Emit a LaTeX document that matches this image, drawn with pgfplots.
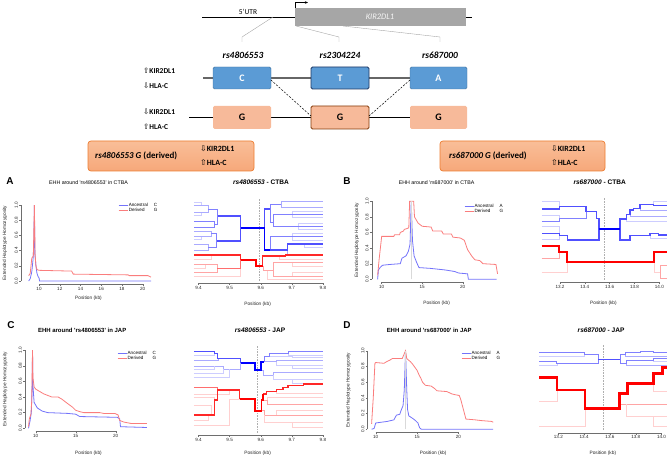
\documentclass[border=0pt]{standalone}
\usepackage{fontspec}
\setmainfont{Liberation Sans}
\newfontfamily\calfont{Carlito}
\newfontfamily\dejfont{DejaVu Sans}
\usepackage{pgfplots}
\pgfplotsset{compat=1.18}
\usetikzlibrary{arrows.meta}
\definecolor{ehhblue}{RGB}{115,115,250}
\definecolor{ehhred}{RGB}{250,125,125}
\definecolor{boxblue}{RGB}{91,155,213}
\definecolor{boxblueb}{RGB}{65,113,156}
\definecolor{navyb}{RGB}{31,56,100}
\definecolor{gbox}{RGB}{247,186,154}
\definecolor{brownb}{RGB}{132,60,12}
\definecolor{callfill}{RGB}{246,168,122}
\definecolor{calltop}{RGB}{249,190,152}
\definecolor{callb}{RGB}{237,125,49}
\definecolor{axgray}{RGB}{110,110,110}
\definecolor{cBa}{RGB}{0,0,255}
\definecolor{cBb}{RGB}{80,80,255}
\definecolor{cBc}{RGB}{128,128,255}
\definecolor{cBd}{RGB}{170,170,255}
\definecolor{cBe}{RGB}{205,205,255}
\definecolor{cRa}{RGB}{255,0,0}
\definecolor{cRb}{RGB}{255,40,40}
\definecolor{cRc}{RGB}{255,110,110}
\definecolor{cRd}{RGB}{255,165,165}
\definecolor{cRe}{RGB}{255,208,208}
\definecolor{coreg}{RGB}{175,175,175}
\tikzset{axline/.style={draw=axgray, line width=0.35bp}}
\pgfplotsset{
  common/.style={scale only axis, clip=false, anchor=south west, axis lines=left,
    axis line style={draw=none}, tick align=outside, major tick length=1.8bp,
    tick style={draw=axgray, line width=0.35bp},
    /pgf/number format/assume math mode=true,
    ticklabel style={font=\fontsize{4.6}{5}\selectfont, text=black!85, inner sep=1bp},
    label style={font=\fontsize{4.8}{5}\selectfont, text=black!85},
    xlabel={Position (kb)}},
  ehh/.style={common, ymin=-0.04, ymax=1.04, ytick={0,0.2,0.4,0.6,0.8,1},
    yticklabels={0.0,0.2,0.4,0.6,0.8,1.0},
    yticklabel style={rotate=90, anchor=south},
    ylabel={Extended Haplotype Homozygosity},
    legend style={draw=none, fill=none, font=\fontsize{4.6}{5}\selectfont, inner sep=0pt,
      row sep=-1.2bp, nodes={inner sep=0.7bp}, cells={anchor=west}},
    legend image code/.code={\draw[##1, line width=0.8bp] (0bp,0bp) -- (9bp,0bp);},
    legend cell align=left},
  bif/.style={common, hide y axis, title style={font=\bfseries\fontsize{6.6}{7}\selectfont, anchor=base}},
}
\begin{document}
\begin{tikzpicture}
\path[use as bounding box] (0,0) rectangle (669bp,457bp);

% ---------------- schematic (pixel coordinates, y downwards) ----------------
\begin{scope}[shift={(0pt,457bp)}, x=1bp, y=-1bp]
 \draw[black, line width=0.5bp] (202,17) -- (295,17);
 \node[font=\calfont\fontsize{7.5}{8}\selectfont] at (248,11.5) {5’UTR};
 \fill[black!35] (295,8) rectangle (466,26);
 \node[font=\calfont\itshape\fontsize{8.5}{9}\selectfont, text=white!92!gray] at (380,17) {KIR2DL1};
 \draw[line width=0.5bp] (466,17) -- (472,17);
 \draw[line width=0.5bp, -{Stealth[length=3bp,width=2.5bp]}] (295,8) -- (295,2.5) -- (308,2.5);
 \draw[gray!70, line width=0.4bp] (273,17) -- (242,37) -- (242,42);
 \draw[gray!70, line width=0.4bp] (296,26) -- (339,37) -- (339,42);
 \draw[gray!70, line width=0.4bp] (343,26) -- (440,37) -- (440,42);
 \node[font=\calfont\bfseries\itshape\fontsize{9.5}{10}\selectfont] at (243,55) {rs4806553};
 \node[font=\calfont\bfseries\itshape\fontsize{9.5}{10}\selectfont] at (340,55) {rs2304224};
 \node[font=\calfont\bfseries\itshape\fontsize{9.5}{10}\selectfont] at (440,55) {rs687000};
 \draw[black!60, line width=1.2bp] (203,78) -- (410,78);
 \draw[black, line width=0.6bp] (189,117.5) -- (410,117.5);
 \draw[rounded corners=1.5bp, fill=boxblue, draw=boxblueb, line width=0.4bp] (213,67) rectangle (271,89);
 \draw[rounded corners=1.5bp, fill=boxblue, draw=navyb, line width=0.9bp] (311,67) rectangle (369,89);
 \draw[rounded corners=1.5bp, fill=boxblue, draw=boxblueb, line width=0.4bp] (410,67) rectangle (467,89);
 \fill[rounded corners=1.5bp, gbox] (213,106) rectangle (271,129);
 \draw[rounded corners=1.5bp, fill=gbox, draw=brownb, line width=0.8bp] (311,106) rectangle (369,129);
 \fill[rounded corners=1.5bp, gbox] (410,106) rectangle (467,129);
 \draw[line width=0.5bp, dash pattern=on 2bp off 1.5bp] (271,80) -- (311,116);
 \draw[line width=0.5bp, dash pattern=on 2bp off 1.5bp] (369,116) -- (410,80);
 \foreach \xx/\ll in {242/C,340/T,438.5/A}
   \node[font=\calfont\bfseries\fontsize{10}{10}\selectfont, text=white] at (\xx,78) {\ll};
 \foreach \xx in {242,340,438.5}
   \node[font=\calfont\bfseries\fontsize{10}{10}\selectfont] at (\xx,117.5) {G};
 \node[anchor=west, inner sep=0pt, font=\calfont\bfseries\fontsize{7.5}{8}\selectfont] at (143,71) {{\dejfont\mdseries ⇧}KIR2DL1};
 \node[anchor=west, inner sep=0pt, font=\calfont\bfseries\fontsize{7.5}{8}\selectfont] at (143,86) {{\dejfont\mdseries ⇩}HLA-C};
 \node[anchor=west, inner sep=0pt, font=\calfont\bfseries\fontsize{7.5}{8}\selectfont] at (143,112) {{\dejfont\mdseries ⇩}KIR2DL1};
 \node[anchor=west, inner sep=0pt, font=\calfont\bfseries\fontsize{7.5}{8}\selectfont] at (143,126.5) {{\dejfont\mdseries ⇧}HLA-C};
 \draw[rounded corners=3bp, top color=calltop, bottom color=callfill, draw=callb, line width=0.7bp] (88,141) rectangle (254,171);
 \draw[rounded corners=3bp, top color=calltop, bottom color=callfill, draw=callb, line width=0.7bp] (440,141) rectangle (605,171);
 \node[anchor=west, inner sep=0pt, font=\calfont\bfseries\fontsize{9}{10}\selectfont] at (95,156) {\textit{rs4806553 G} (derived)};
 \node[anchor=west, inner sep=0pt, font=\calfont\bfseries\fontsize{8}{9}\selectfont] at (200,149) {{\dejfont\mdseries ⇩}KIR2DL1};
 \node[anchor=west, inner sep=0pt, font=\calfont\bfseries\fontsize{8}{9}\selectfont] at (200,163) {{\dejfont\mdseries ⇧}HLA-C};
 \node[anchor=west, inner sep=0pt, font=\calfont\bfseries\fontsize{9}{10}\selectfont] at (449,156) {\textit{rs687000 G} (derived)};
 \node[anchor=west, inner sep=0pt, font=\calfont\bfseries\fontsize{8}{9}\selectfont] at (551,149) {{\dejfont\mdseries ⇩}KIR2DL1};
 \node[anchor=west, inner sep=0pt, font=\calfont\bfseries\fontsize{8}{9}\selectfont] at (551,163) {{\dejfont\mdseries ⇧}HLA-C};
 \node[font=\bfseries\fontsize{10}{10}\selectfont] at (10,181) {A};
 \node[font=\bfseries\fontsize{10}{10}\selectfont] at (347,181) {B};
 \node[font=\bfseries\fontsize{10}{10}\selectfont] at (11,325) {C};
 \node[font=\bfseries\fontsize{10}{10}\selectfont] at (347,325) {D};
\end{scope}

% ---------------- A : EHH rs4806553 CTBA ----------------
\begin{axis}[ehh, at={(21bp,173bp)}, width=135bp, height=82bp, xmin=8.26, xmax=21.28,
  xtick={10,12,14,16,18,20},
  title={EHH around \textquotesingle rs4806553\textquotesingle\ in CTBA},
  title style={font=\fontsize{5.3}{6}\selectfont, at={(axis description cs:0.5,1.146)}, anchor=base},
  xlabel style={at={(axis description cs:0.5,-0.195)}, anchor=base},
  ylabel style={at={(axis description cs:-0.119,0.5)}, anchor=center},
  legend style={at={(axis description cs:0.719,0.994)}, anchor=north west},
  legend entries={\makebox[25bp][l]{Ancestral}C, \makebox[25bp][l]{Derived}G}]
 \addplot[color=ehhblue, line width=0.8bp] coordinates {(9.0,0) (9.15,0.03) (9.3,0.12) (9.42,0.28) (9.5,0.5) (9.55,1.0) (9.6,0.35) (9.7,0.2) (9.8,0.1) (9.9,0.06) (10.0,0.04) (10.05,0) (20.8,0)};
 \addplot[color=ehhred, line width=0.8bp] coordinates {(9.0,0.07) (9.15,0.1) (9.3,0.3) (9.45,0.33) (9.55,1.0) (9.62,0.35) (9.7,0.2) (9.8,0.15) (10.0,0.14) (13.15,0.13) (13.3,0.09) (18.6,0.08) (18.7,0.07) (20.5,0.07) (20.8,0.05)};
 \draw[axline] (axis cs:10,-0.04) -- (axis cs:20,-0.04);
 \draw[axline] (axis cs:8.26,0) -- (axis cs:8.26,1);
\end{axis}

% ---------------- A : bifurcation rs4806553 CTBA ----------------
\begin{axis}[bif, at={(189.2bp,174bp)}, width=136.8bp, height=85bp, xmin=9.37, xmax=9.81, ymin=-283, ymax=-198,
  xtick={9.4,9.5,9.6,9.7,9.8}, xticklabels={9.4,9.5,9.6,9.7,9.8},
  title={\textit{rs4806553} - CTBA}, title style={at={(axis description cs:0.525,1.088)}},
  xlabel style={at={(axis description cs:0.5,-0.27)}, anchor=base}]
 \addplot[color=coreg, line width=0.35bp, dash pattern=on 0.8bp off 0.8bp] coordinates {(9.595,-281) (9.595,-198)};
 \addplot[color=cBe, line width=0.45bp] coordinates {(9.385,-202) (9.41,-202) (9.41,-205)};
 \addplot[color=cBe, line width=0.45bp] coordinates {(9.385,-215) (9.41,-215) (9.41,-212)};
 \addplot[color=cBe, line width=0.45bp] coordinates {(9.385,-239) (9.41,-239) (9.41,-236)};
 \addplot[color=cBd, line width=0.55bp] coordinates {(9.385,-205) (9.43,-205) (9.43,-212) (9.385,-212)};
 \addplot[color=cBc, line width=0.8bp] coordinates {(9.385,-221) (9.45,-221) (9.45,-227) (9.385,-227)};
 \addplot[color=cBd, line width=0.55bp] coordinates {(9.385,-231) (9.44,-231) (9.44,-236) (9.385,-236)};
 \addplot[color=cBd, line width=0.55bp] coordinates {(9.385,-244) (9.43,-244) (9.43,-250) (9.385,-250)};
 \addplot[color=cBc, line width=0.8bp] coordinates {(9.43,-209) (9.462,-209) (9.462,-224) (9.45,-224)};
 \addplot[color=cBc, line width=0.8bp] coordinates {(9.44,-233) (9.458,-233) (9.458,-247) (9.43,-247)};
 \addplot[color=cBb, line width=1.2bp] coordinates {(9.462,-216) (9.535,-216) (9.535,-241) (9.458,-241)};
 \addplot[color=cBa, line width=1.8bp] coordinates {(9.595,-228) (9.535,-228)};
 \addplot[color=cBe, line width=0.45bp] coordinates {(9.8,-211) (9.7,-211) (9.7,-217) (9.8,-217)};
 \addplot[color=cBe, line width=0.45bp] coordinates {(9.8,-223) (9.72,-223) (9.72,-229) (9.8,-229)};
 \addplot[color=cBe, line width=0.45bp] coordinates {(9.8,-233) (9.7,-233) (9.7,-240) (9.8,-240)};
 \addplot[color=cBe, line width=0.45bp] coordinates {(9.8,-247) (9.74,-247) (9.74,-244)};
 \addplot[color=cBd, line width=0.55bp] coordinates {(9.8,-201) (9.665,-201) (9.665,-207) (9.8,-207)};
 \addplot[color=cBc, line width=0.8bp] coordinates {(9.8,-214) (9.64,-214) (9.64,-226) (9.8,-226)};
 \addplot[color=cBc, line width=0.8bp] coordinates {(9.665,-204) (9.63,-204) (9.63,-222) (9.64,-222)};
 \addplot[color=cBc, line width=0.8bp] coordinates {(9.63,-250) (9.63,-236) (9.8,-236)};
 \addplot[color=cBd, line width=0.55bp] coordinates {(9.685,-250) (9.685,-254) (9.8,-254)};
 \addplot[color=cBb, line width=1.2bp] coordinates {(9.63,-250) (9.685,-250) (9.685,-244) (9.8,-244)};
 \addplot[color=cBb, line width=1.2bp] coordinates {(9.612,-228) (9.612,-209) (9.63,-209)};
 \addplot[color=cBa, line width=1.8bp] coordinates {(9.595,-228) (9.612,-228) (9.612,-250) (9.63,-250)};
 \addplot[color=cRe, line width=0.45bp] coordinates {(9.385,-276) (9.535,-276) (9.535,-268)};
 \addplot[color=cRe, line width=0.45bp] coordinates {(9.385,-259) (9.44,-259) (9.44,-255)};
 \addplot[color=cRe, line width=0.45bp] coordinates {(9.385,-268) (9.42,-268) (9.42,-264)};
 \addplot[color=cRd, line width=0.55bp] coordinates {(9.385,-264) (9.46,-264) (9.46,-272) (9.385,-272)};
 \addplot[color=cRc, line width=0.8bp] coordinates {(9.535,-260) (9.535,-268) (9.46,-268)};
 \addplot[color=cRb, line width=1.2bp] coordinates {(9.535,-260) (9.535,-255) (9.385,-255)};
 \addplot[color=cRe, line width=0.45bp] coordinates {(9.8,-266) (9.7,-266) (9.7,-262)};
 \addplot[color=cRe, line width=0.45bp] coordinates {(9.8,-272) (9.7,-272) (9.7,-276)};
 \addplot[color=cRe, line width=0.45bp] coordinates {(9.8,-279) (9.62,-279) (9.62,-270)};
 \addplot[color=cRe, line width=0.45bp] coordinates {(9.8,-259) (9.66,-259) (9.66,-256)};
 \addplot[color=cRd, line width=0.55bp] coordinates {(9.8,-262) (9.64,-262) (9.64,-276) (9.8,-276)};
 \addplot[color=cRd, line width=0.55bp] coordinates {(9.607,-266) (9.607,-270) (9.64,-270)};
 \addplot[color=cRb, line width=1.2bp] coordinates {(9.607,-266) (9.607,-256) (9.68,-256) (9.68,-255) (9.8,-255)};
 \addplot[color=cRa, line width=1.6bp] coordinates {(9.607,-266) (9.585,-266) (9.585,-260) (9.535,-260)};
 \draw[axline] (axis cs:9.4,-283) -- (axis cs:9.8,-283);
\end{axis}

% ---------------- B : EHH rs687000 CTBA ----------------
\begin{axis}[ehh, at={(371.7bp,174.6bp)}, width=129.9bp, height=84.2bp, xmin=8.77, xmax=24.8,
  xtick={10,15,20},
  title={EHH around \textquotesingle rs687000\textquotesingle\ in CTBA},
  title style={font=\fontsize{5.3}{6}\selectfont, at={(axis description cs:0.5,1.097)}, anchor=base},
  xlabel style={at={(axis description cs:0.5,-0.257)}, anchor=base},
  ylabel style={at={(axis description cs:-0.115,0.5)}, anchor=center},
  legend style={at={(axis description cs:0.71,0.943)}, anchor=north west},
  legend entries={\makebox[25bp][l]{Ancestral}A, \makebox[25bp][l]{Derived}G}]
 \addplot[color=ehhblue, line width=0.8bp] coordinates {(9.5,0) (9.6,0.12) (9.8,0.15) (10.1,0.18) (11.0,0.19) (12.3,0.2) (12.5,0.27) (13.0,0.3) (13.3,0.36) (13.5,0.45) (13.65,1.0) (13.8,0.5) (14.0,0.3) (14.3,0.22) (14.6,0.15) (16.0,0.14) (17.8,0.12) (19.0,0.1) (19.5,0.08) (20.6,0.07) (20.7,0) (24.2,0)};
 \addplot[color=ehhred, line width=0.8bp] coordinates {(9.5,0.05) (9.7,0.27) (10.0,0.55) (11.5,0.55) (11.6,0.57) (12.2,0.57) (12.3,0.6) (12.7,0.62) (12.8,0.64) (13.1,0.65) (13.35,0.66) (13.45,1.0) (13.95,1.0) (14.05,0.8) (14.5,0.72) (15.0,0.68) (16.1,0.67) (16.3,0.62) (17.4,0.62) (17.6,0.58) (18.6,0.58) (18.8,0.54) (19.7,0.53) (20.2,0.5) (20.6,0.38) (21.1,0.3) (21.5,0.25) (22.1,0.24) (22.5,0.2) (24.1,0.19) (24.3,0.07)};
 \addplot[color=black!15, line width=0.5bp, forget plot] coordinates {(13.62,0) (13.62,1)};
 \draw[axline] (axis cs:10,-0.04) -- (axis cs:20,-0.04);
 \draw[axline] (axis cs:8.77,0) -- (axis cs:8.77,1);
\end{axis}

% ---------------- B : bifurcation rs687000 CTBA ----------------
\begin{axis}[bif, at={(540.1bp,174.7bp)}, width=126.7bp, height=84.3bp, xmin=13.04, xmax=14.06, ymin=-282.3, ymax=-198,
  xtick={13.2,13.4,13.6,13.8,14.0}, xticklabels={13.2,13.4,13.6,13.8,14.0},
  title={\textit{rs687000} - CTBA}, title style={at={(axis description cs:0.47,1.089)}},
  xlabel style={at={(axis description cs:0.5,-0.263)}, anchor=base}]
 \addplot[color=coreg, line width=0.35bp, dash pattern=on 0.8bp off 0.8bp] coordinates {(13.554,-280) (13.554,-198)};
 \addplot[color=cBe, line width=0.45bp] coordinates {(13.053,-201.7) (13.194,-201.7) (13.194,-206.7)};
 \addplot[color=cBe, line width=0.45bp] coordinates {(13.053,-215) (13.194,-215) (13.194,-218.3)};
 \addplot[color=cBe, line width=0.45bp] coordinates {(13.053,-226.5) (13.194,-226.5) (13.194,-233.3)};
 \addplot[color=cBe, line width=0.45bp] coordinates {(13.053,-239.5) (13.194,-239.5) (13.194,-235.7)};
 \addplot[color=cBc, line width=0.8bp] coordinates {(13.053,-221) (13.194,-221) (13.194,-218.3) (13.409,-218.3) (13.409,-211.7)};
 \addplot[color=cBb, line width=1.2bp] coordinates {(13.514,-229.3) (13.514,-218.3) (13.495,-218.3) (13.495,-211.7) (13.409,-211.7) (13.409,-206.7) (13.194,-206.7) (13.194,-209) (13.053,-209)};
 \addplot[color=cBb, line width=1.2bp] coordinates {(13.514,-229.3) (13.514,-240) (13.259,-240) (13.259,-235.7) (13.194,-235.7) (13.194,-233.3) (13.053,-233.3)};
 \addplot[color=cBe, line width=0.45bp] coordinates {(13.951,-204.3) (13.951,-201.7) (14.059,-201.7)};
 \addplot[color=cBe, line width=0.45bp] coordinates {(13.925,-235.7) (13.925,-238.5) (14.059,-238.5)};
 \addplot[color=cBe, line width=0.45bp] coordinates {(13.737,-219) (13.737,-221.5) (14.059,-221.5)};
 \addplot[color=cBd, line width=0.55bp] coordinates {(13.764,-214.3) (13.764,-216.7) (14.059,-216.7)};
 \addplot[color=cBd, line width=0.55bp] coordinates {(13.844,-208.3) (13.844,-210.5) (14.059,-210.5)};
 \addplot[color=cBb, line width=1.2bp] coordinates {(13.683,-229.3) (13.683,-219) (13.737,-219) (13.737,-214.3) (13.764,-214.3) (13.764,-210) (13.79,-210) (13.79,-208.3) (13.844,-208.3) (13.844,-204.3) (13.951,-204.3) (13.951,-205.7) (14.059,-205.7)};
 \addplot[color=cBb, line width=1.2bp] coordinates {(13.683,-229.3) (13.683,-240) (13.764,-240) (13.764,-235.7) (13.925,-235.7) (13.925,-233.3) (13.992,-233.3) (13.992,-235) (14.059,-235)};
 \addplot[color=cBa, line width=2bp] coordinates {(13.514,-229.3) (13.683,-229.3)};
 \addplot[color=cRd, line width=0.55bp] coordinates {(13.053,-258.3) (13.194,-258.3) (13.194,-251.7)};
 \addplot[color=cRe, line width=0.45bp] coordinates {(13.053,-272.3) (13.259,-272.3) (13.259,-262.3)};
 \addplot[color=cRe, line width=0.45bp] coordinates {(13.957,-262.3) (13.957,-272.3) (14.005,-272.3)};
 \addplot[color=cRd, line width=0.55bp] coordinates {(14.059,-265.7) (14.005,-265.7) (14.005,-278.3) (14.059,-278.3)};
 \addplot[color=cRa, line width=2.2bp] coordinates {(13.053,-245.7) (13.194,-245.7) (13.194,-251.7) (13.259,-251.7) (13.259,-262.3) (13.957,-262.3) (13.957,-251.7) (14.059,-251.7)};
 \draw[axline] (axis cs:13.2,-282.3) -- (axis cs:14.0,-282.3);
\end{axis}

% ---------------- C : EHH rs4806553 JAP ----------------
\begin{axis}[ehh, at={(25bp,25.6bp)}, width=127bp, height=84.5bp, xmin=8.66, xmax=24.54,
  xtick={10,15,20},
  title={EHH around \textquotesingle rs4806553\textquotesingle\ in JAP},
  title style={font=\bfseries\fontsize{6}{7}\selectfont, at={(axis description cs:0.45,1.105)}, anchor=base},
  xlabel style={at={(axis description cs:0.5,-0.273)}, anchor=base},
  ylabel style={at={(axis description cs:-0.157,0.5)}, anchor=center},
  legend style={at={(axis description cs:0.724,0.957)}, anchor=north west},
  legend entries={\makebox[25bp][l]{Ancestral}C, \makebox[25bp][l]{Derived}G}]
 \addplot[color=ehhblue, line width=0.8bp] coordinates {(9.1,0) (9.3,0.1) (9.45,0.2) (9.55,0.5) (9.6,1.0) (9.65,0.55) (9.8,0.33) (10.2,0.26) (10.8,0.22) (11.5,0.2) (14.0,0.19) (15.0,0.18) (15.5,0.15) (20.2,0.14) (20.5,0.12) (20.6,0.02) (23.9,0.01)};
 \addplot[color=ehhred, line width=0.8bp] coordinates {(9.1,0.02) (9.2,0.12) (9.4,0.18) (9.5,0.35) (9.6,1.0) (9.65,0.65) (9.8,0.53) (10.0,0.5) (10.5,0.47) (11.0,0.44) (11.5,0.42) (12.0,0.4) (12.8,0.4) (13.3,0.37) (13.8,0.33) (14.2,0.3) (14.6,0.27) (15.0,0.23) (15.6,0.21) (16.0,0.2) (18.0,0.2) (18.5,0.19) (19.9,0.19) (20.3,0.17) (20.5,0.1) (21.0,0.08) (21.5,0.07) (22.0,0.06) (23.9,0.06)};
 \draw[axline] (axis cs:10,-0.04) -- (axis cs:20,-0.04);
 \draw[axline] (axis cs:8.66,0) -- (axis cs:8.66,1);
\end{axis}

% ---------------- C : bifurcation rs4806553 JAP ----------------
\begin{axis}[bif, at={(189.2bp,22bp)}, width=136.8bp, height=90bp, xmin=9.37, xmax=9.81, ymin=-435, ymax=-345,
  xtick={9.4,9.5,9.6,9.7,9.8}, xticklabels={9.4,9.5,9.6,9.7,9.8},
  title={\textit{rs4806553} - JAP}, title style={at={(axis description cs:0.518,1.076)}},
  xlabel style={at={(axis description cs:0.5,-0.217)}, anchor=base}]
 \addplot[color=coreg, line width=0.35bp, dash pattern=on 0.8bp off 0.8bp] coordinates {(9.59,-433) (9.59,-345)};
 \addplot[color=cBe, line width=0.45bp] coordinates {(9.385,-355.5) (9.452,-355.5) (9.452,-353.3)};
 \addplot[color=cBd, line width=0.55bp] coordinates {(9.385,-360.5) (9.462,-360.5) (9.462,-358.3)};
 \addplot[color=cBd, line width=0.55bp] coordinates {(9.385,-366) (9.48,-366) (9.48,-369) (9.535,-369) (9.535,-363.3)};
 \addplot[color=cBe, line width=0.45bp] coordinates {(9.385,-369.5) (9.45,-369.5) (9.45,-366)};
 \addplot[color=cBe, line width=0.45bp] coordinates {(9.385,-373.5) (9.48,-373.5) (9.48,-369)};
 \addplot[color=cBe, line width=0.45bp] coordinates {(9.385,-377) (9.5,-377) (9.5,-369)};
 \addplot[color=cBd, line width=0.55bp] coordinates {(9.602,-370) (9.607,-370) (9.607,-375) (9.64,-375) (9.64,-372) (9.8,-372)};
 \addplot[color=cBe, line width=0.45bp] coordinates {(9.64,-375) (9.64,-379) (9.8,-379)};
 \addplot[color=cBe, line width=0.45bp] coordinates {(9.7,-379) (9.7,-383) (9.8,-383)};
 \addplot[color=cBd, line width=0.55bp] coordinates {(9.612,-361.7) (9.65,-361.7) (9.65,-360) (9.8,-360)};
 \addplot[color=cBe, line width=0.45bp] coordinates {(9.65,-361.7) (9.65,-365) (9.8,-365)};
 \addplot[color=cBe, line width=0.45bp] coordinates {(9.7,-365) (9.7,-368) (9.8,-368)};
 \addplot[color=cBe, line width=0.45bp] coordinates {(9.629,-356.7) (9.7,-356.7) (9.7,-357.5) (9.8,-357.5)};
 \addplot[color=cBe, line width=0.45bp] coordinates {(9.688,-353.3) (9.688,-354.8) (9.8,-354.8)};
 \addplot[color=cBb, line width=1.2bp] coordinates {(9.385,-351.7) (9.452,-351.7) (9.452,-353.3) (9.462,-353.3) (9.462,-358.3) (9.535,-358.3) (9.535,-363.3)};
 \addplot[color=cBc, line width=0.8bp] coordinates {(9.612,-361.7) (9.612,-356.7) (9.629,-356.7) (9.629,-353.3) (9.688,-353.3) (9.688,-351.7) (9.8,-351.7)};
 \addplot[color=cBa, line width=1.8bp] coordinates {(9.535,-363.3) (9.581,-363.3) (9.581,-370) (9.602,-370) (9.602,-361.7) (9.612,-361.7)};
 \addplot[color=cRe, line width=0.45bp] coordinates {(9.385,-397) (9.452,-397) (9.452,-400)};
 \addplot[color=cRe, line width=0.45bp] coordinates {(9.385,-405) (9.44,-405) (9.44,-415)};
 \addplot[color=cRe, line width=0.45bp] coordinates {(9.385,-420) (9.43,-420) (9.43,-415)};
 \addplot[color=cRe, line width=0.45bp] coordinates {(9.385,-425) (9.5,-425) (9.5,-399) (9.532,-399)};
 \addplot[color=cRe, line width=0.45bp] coordinates {(9.385,-394) (9.5,-394) (9.5,-390)};
 \addplot[color=cRd, line width=0.55bp] coordinates {(9.607,-400) (9.62,-400) (9.62,-404) (9.8,-404)};
 \addplot[color=cRe, line width=0.45bp] coordinates {(9.62,-400) (9.62,-397) (9.8,-397)};
 \addplot[color=cRd, line width=0.55bp] coordinates {(9.602,-410.7) (9.61,-410.7) (9.61,-415) (9.8,-415)};
 \addplot[color=cRe, line width=0.45bp] coordinates {(9.61,-415) (9.61,-422) (9.8,-422)};
 \addplot[color=cRe, line width=0.45bp] coordinates {(9.65,-415) (9.65,-410) (9.8,-410)};
 \addplot[color=cRe, line width=0.45bp] coordinates {(9.7,-422) (9.7,-427) (9.8,-427)};
 \addplot[color=cRe, line width=0.45bp] coordinates {(9.651,-391.7) (9.651,-393) (9.8,-393)};
 \addplot[color=cRc, line width=0.8bp] coordinates {(9.385,-387.7) (9.462,-387.7) (9.462,-390)};
 \addplot[color=cRb, line width=1.2bp] coordinates {(9.385,-415) (9.452,-415) (9.452,-400) (9.462,-400) (9.462,-390) (9.532,-390) (9.532,-399)};
 \addplot[color=cRb, line width=1.2bp] coordinates {(9.607,-394) (9.618,-394) (9.618,-391.7) (9.651,-391.7) (9.651,-389.3) (9.672,-389.3) (9.672,-387.3) (9.688,-387.3) (9.688,-385.7) (9.737,-385.7) (9.737,-384) (9.8,-384)};
 \addplot[color=cRa, line width=1.6bp] coordinates {(9.532,-399) (9.581,-399) (9.581,-410.7) (9.602,-410.7) (9.602,-400) (9.607,-400) (9.607,-394)};
 \draw[axline] (axis cs:9.4,-435) -- (axis cs:9.8,-435);
\end{axis}

% ---------------- D : EHH rs687000 JAP ----------------
\begin{axis}[ehh, at={(367.3bp,24.6bp)}, width=131.7bp, height=84.8bp, xmin=8.98, xmax=24.9,
  xtick={10,15,20},
  title={EHH around \textquotesingle rs687000\textquotesingle\ in JAP},
  title style={font=\bfseries\fontsize{6}{7}\selectfont, at={(axis description cs:0.47,1.113)}, anchor=base},
  xlabel style={at={(axis description cs:0.5,-0.261)}, anchor=base},
  ylabel style={at={(axis description cs:-0.144,0.5)}, anchor=center},
  legend style={at={(axis description cs:0.711,0.966)}, anchor=north west},
  legend entries={\makebox[25bp][l]{Ancestral}A, \makebox[25bp][l]{Derived}G}]
 \addplot[color=ehhblue, line width=0.8bp] coordinates {(9.5,0) (9.8,0.01) (10.0,0.08) (10.7,0.09) (11.4,0.1) (12.2,0.12) (12.5,0.18) (12.9,0.19) (13.1,0.25) (13.3,0.3) (13.45,0.5) (13.6,1.0) (13.75,0.5) (13.85,0.25) (14.0,0.17) (14.3,0.15) (14.7,0.12) (15.1,0.08) (15.3,0.02) (15.5,0) (24.2,0)};
 \addplot[color=ehhred, line width=0.8bp] coordinates {(9.5,0.07) (9.7,0.4) (9.9,0.84) (10.0,0.85) (11.0,0.84) (11.3,0.86) (11.7,0.88) (12.0,0.9) (13.2,0.9) (13.4,0.95) (13.6,1.0) (13.75,0.9) (14.2,0.86) (14.45,0.83) (15.0,0.75) (15.2,0.7) (15.45,0.65) (15.65,0.6) (16.0,0.56) (16.7,0.55) (17.1,0.52) (17.4,0.49) (18.6,0.48) (19.2,0.45) (19.6,0.44) (20.1,0.43) (20.3,0.37) (20.6,0.25) (20.9,0.13) (22.0,0.12) (22.8,0.11) (24.0,0.1) (24.2,0.09)};
 \addplot[color=black!15, line width=0.5bp, forget plot] coordinates {(13.6,0) (13.6,1)};
 \draw[axline] (axis cs:10,-0.04) -- (axis cs:20,-0.04);
 \draw[axline] (axis cs:8.98,0) -- (axis cs:8.98,1);
\end{axis}

% ---------------- D : bifurcation rs687000 JAP ----------------
\begin{axis}[bif, at={(537.7bp,24.3bp)}, width=130.3bp, height=87.7bp, xmin=13.04, xmax=14.05, ymin=-432.7, ymax=-345,
  xtick={13.2,13.4,13.6,13.8,14.0}, xticklabels={13.2,13.4,13.6,13.8,14.0},
  title={\textit{rs687000} - JAP}, title style={at={(axis description cs:0.4865,1.078)}},
  xlabel style={at={(axis description cs:0.5,-0.249)}, anchor=base}]
 \addplot[color=coreg, line width=0.35bp, dash pattern=on 0.8bp off 0.8bp] coordinates {(13.55,-430) (13.55,-345)};
 \addplot[color=cBe, line width=0.5bp] coordinates {(13.053,-356.7) (13.399,-356.7) (13.399,-354.3)};
 \addplot[color=cBe, line width=0.5bp] coordinates {(13.053,-365.5) (13.188,-365.5) (13.188,-363.3)};
 \addplot[color=cBd, line width=0.5bp] coordinates {(13.717,-354.3) (13.717,-356) (14.04,-356)};
 \addplot[color=cBd, line width=0.5bp] coordinates {(13.73,-363.3) (13.73,-365) (14.04,-365)};
 \addplot[color=cBe, line width=0.5bp] coordinates {(13.936,-360) (13.936,-361.7) (14.04,-361.7)};
 \addplot[color=cBc, line width=0.8bp] coordinates {(13.51,-359.3) (13.51,-354.3) (13.399,-354.3) (13.399,-352.3) (13.053,-352.3)};
 \addplot[color=cBc, line width=0.8bp] coordinates {(13.51,-359.3) (13.51,-363.3) (13.188,-363.3) (13.188,-361.7) (13.053,-361.7)};
 \addplot[color=cBc, line width=0.8bp] coordinates {(13.678,-359.3) (13.678,-354.3) (13.717,-354.3) (13.717,-352.7) (13.833,-352.7) (13.833,-351) (13.936,-351) (13.936,-352.3) (14.04,-352.3)};
 \addplot[color=cBc, line width=0.8bp] coordinates {(13.678,-359.3) (13.678,-363.3) (13.73,-363.3) (13.73,-360) (13.936,-360) (13.936,-358.3) (14.04,-358.3)};
 \addplot[color=cBb, line width=1.0bp] coordinates {(13.51,-359.3) (13.678,-359.3)};
 \addplot[color=cRe, line width=0.5bp] coordinates {(13.053,-401.7) (13.188,-401.7) (13.188,-390)};
 \addplot[color=cRe, line width=0.5bp] coordinates {(13.053,-426.7) (13.407,-426.7) (13.407,-408.3)};
 \addplot[color=cRd, line width=0.6bp] coordinates {(13.678,-408.3) (13.678,-404) (14.04,-404)};
 \addplot[color=cRe, line width=0.5bp] coordinates {(13.73,-404) (13.73,-416.7) (14.04,-416.7)};
 \addplot[color=cRe, line width=0.5bp] coordinates {(13.936,-416.7) (13.936,-426.7) (14.04,-426.7)};
 \addplot[color=cRe, line width=0.5bp] coordinates {(13.936,-383.3) (13.936,-391.7) (14.04,-391.7)};
 \addplot[color=cRa, line width=2.6bp] coordinates {(13.053,-377.7) (13.188,-377.7) (13.188,-390) (13.407,-390) (13.407,-408.3) (13.673,-408.3) (13.673,-393.3) (13.735,-393.3) (13.735,-383.3) (13.936,-383.3) (13.936,-373.3) (14.009,-373.3) (14.009,-367.7) (14.04,-367.7)};
 \draw[axline] (axis cs:13.2,-432.7) -- (axis cs:14.0,-432.7);
\end{axis}
\end{tikzpicture}
\end{document}
